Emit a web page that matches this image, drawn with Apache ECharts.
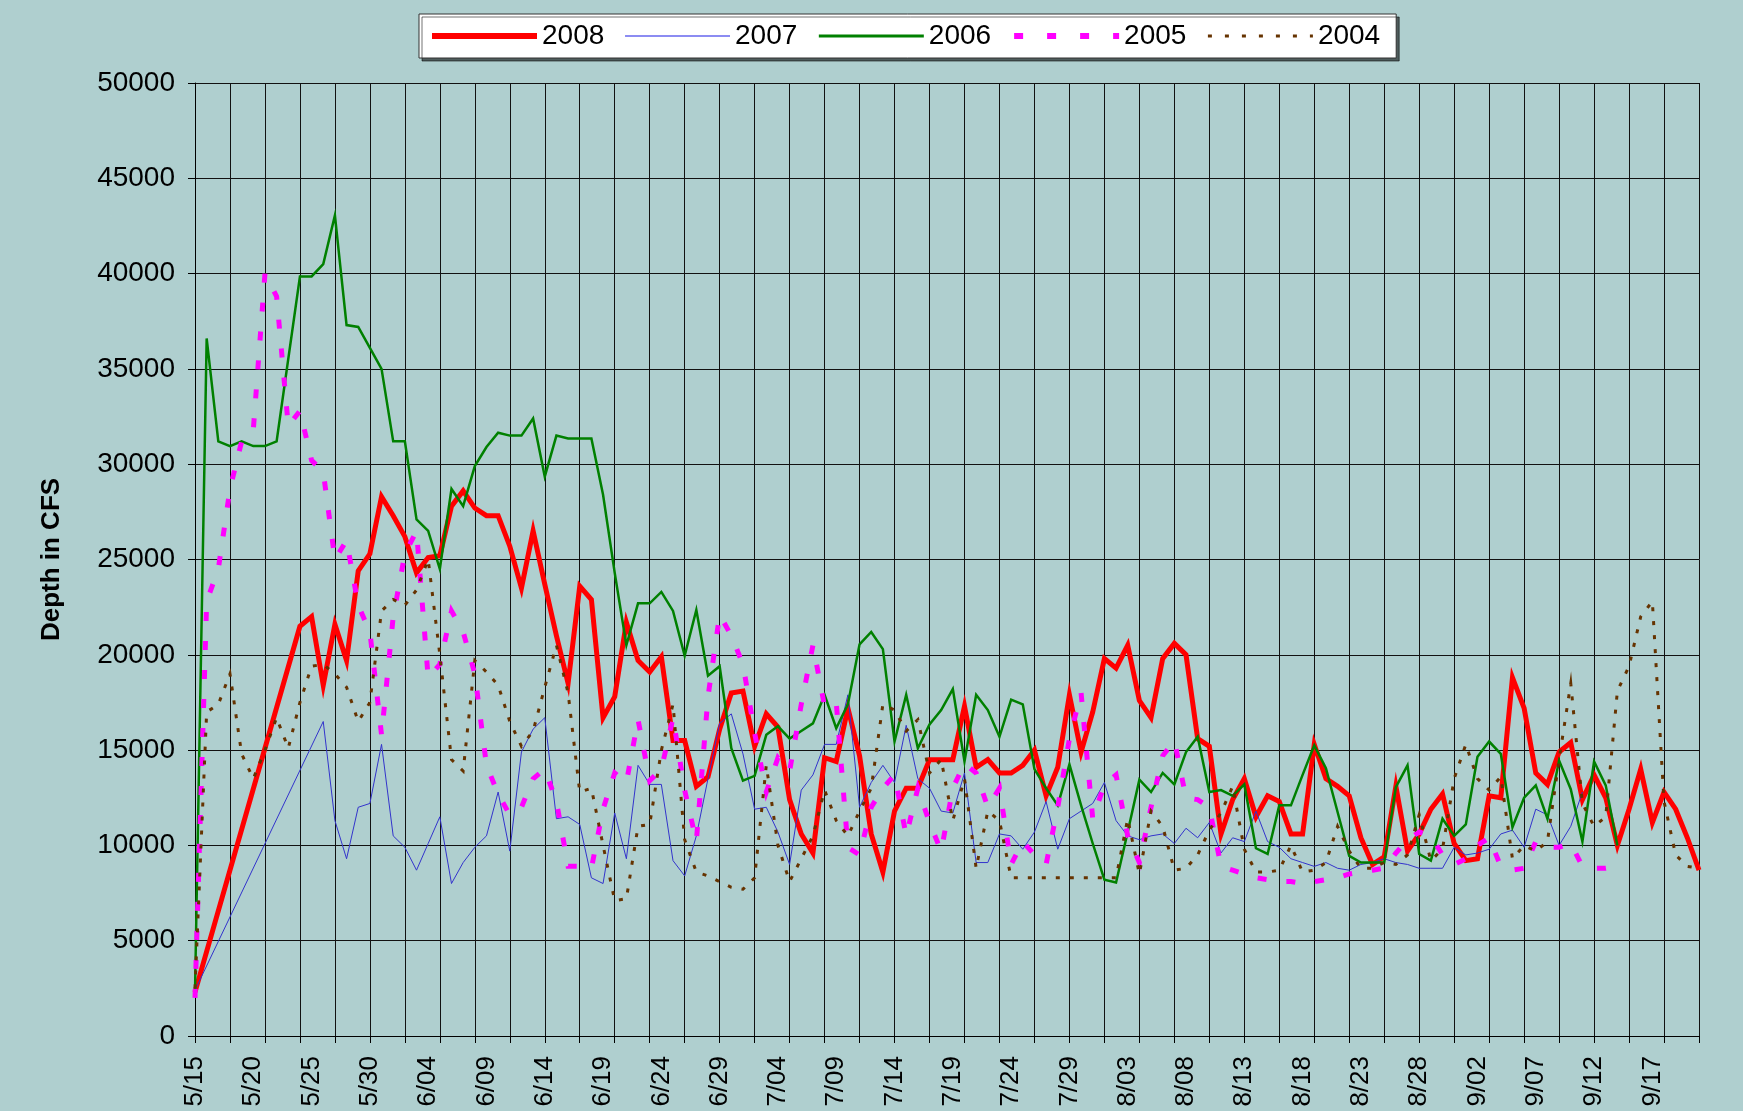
<!DOCTYPE html>
<html>
<head>
<meta charset="utf-8">
<script src="https://cdn.jsdelivr.net/npm/echarts@6/dist/echarts.min.js"></script>
<style>
html,body{margin:0;padding:0;background:#afcfcf;}
#chart{width:1743px;height:1111px;}
</style>
</head>
<body>
<div id="chart"></div>
<script>
const categories = [
"5/15","5/16","5/17","5/18","5/19","5/20","5/21","5/22","5/23","5/24","5/25","5/26","5/27","5/28","5/29","5/30","5/31",
"6/01","6/02","6/03","6/04","6/05","6/06","6/07","6/08","6/09","6/10","6/11","6/12","6/13","6/14","6/15","6/16","6/17","6/18","6/19","6/20","6/21","6/22","6/23","6/24","6/25","6/26","6/27","6/28","6/29","6/30",
"7/01","7/02","7/03","7/04","7/05","7/06","7/07","7/08","7/09","7/10","7/11","7/12","7/13","7/14","7/15","7/16","7/17","7/18","7/19","7/20","7/21","7/22","7/23","7/24","7/25","7/26","7/27","7/28","7/29","7/30","7/31",
"8/01","8/02","8/03","8/04","8/05","8/06","8/07","8/08","8/09","8/10","8/11","8/12","8/13","8/14","8/15","8/16","8/17","8/18","8/19","8/20","8/21","8/22","8/23","8/24","8/25","8/26","8/27","8/28","8/29","8/30","8/31",
"9/01","9/02","9/03","9/04","9/05","9/06","9/07","9/08","9/09","9/10","9/11","9/12","9/13","9/14","9/15","9/16","9/17","9/18","9/19","9/20","9/21"
];

const seriesNames = ["2008","2007","2006","2005","2004"];

const y2008 = [2300,null,null,null,null,null,null,null,null,21500,22000,18400,21600,19700,24400,25300,28300,
27300,26200,24300,25100,25200,27800,28600,27700,27300,27300,25700,23500,26500,23700,21000,18500,23600,22900,16700,17800,21700,19700,19100,19900,15500,15500,13100,13600,16100,18000,
18100,15200,16900,16200,12400,10600,9600,14600,14400,17200,14700,10600,8600,11800,13000,13000,14500,14500,14500,17300,14100,14500,13800,13800,14200,15000,12600,14100,17900,14900,17000,
19800,19300,20500,17600,16700,19800,20600,20000,15600,15200,10600,12400,13500,11500,12600,12300,10600,10600,15300,13500,13100,12600,10400,9000,9400,13100,9700,10600,11900,12700,10100,
9200,9300,12600,12500,18800,17200,13800,13200,14900,15400,12400,13700,12500,10000,11900,14000,11200,12800,11900,10400,8700];

const y2007 = [2400,null,null,null,null,null,null,null,null,null,null,16500,11300,9300,12000,12200,15300,
10500,9900,8700,10100,11500,8000,9100,9900,10500,12800,9700,14900,16100,16700,11400,11500,11100,8300,8000,11700,9300,14200,13200,13200,9200,8400,10500,13500,16400,16900,
14800,11900,12000,10700,9000,12900,13700,15300,15300,17900,12000,13300,14200,13300,16300,13500,13000,11800,11700,13800,9100,9100,10600,10500,9800,10700,12300,9800,11400,11800,12200,
13300,11300,10500,10300,10500,10600,10100,10900,10400,11200,9600,10400,10200,11800,10200,9900,9300,9100,8900,9100,8800,8700,9000,9100,9300,9100,9000,8800,8800,8800,9900,
9500,9600,9800,10600,10800,9900,11900,11600,10000,11000,12800,null,null,null,null,null,null,null,null,null,null];

const y2006 = [2300,36600,31200,30950,31200,30950,30950,31200,null,39850,39850,40500,43050,37300,37200,36100,35000,
31200,31200,27100,26500,24500,28700,27800,29900,30900,31650,31500,31500,32400,29350,31500,31350,31350,31350,28400,24300,20500,22700,22700,23300,22300,19950,22350,18900,19400,15100,
13400,13650,15800,16250,15600,16000,16400,17900,16150,17400,20550,21200,20300,15450,17900,15100,16350,17100,18200,14400,17900,17100,15700,17650,17400,14000,13000,12100,14250,12100,10100,
8200,8050,10700,13450,12800,13800,13200,14900,15700,12800,12900,12600,13200,9850,9550,12100,12100,13700,15250,14050,11750,9450,9100,9100,9100,13050,14200,9550,9200,11400,10500,
11100,14650,15450,14800,10950,12500,13150,11400,14450,12950,10200,14400,13150,10000,null,null,null,null,null,null,null];

const y2005 = [2000,22800,24500,28700,31200,31800,40000,38800,32000,32800,30200,29600,25000,26000,22600,21200,15800,
22000,25300,26500,18800,19500,22300,21200,19000,14200,12700,11600,12000,13500,14000,12300,8900,8900,8800,11900,13800,13300,16600,13400,14000,16700,12900,10200,17800,22100,21000,
19500,15900,12800,14600,13900,17400,20500,17300,17500,9900,9500,12000,13000,13700,10500,13000,11200,9700,13000,14300,13800,12000,13000,9000,10200,9500,9000,12000,15600,18000,11400,
13200,13700,10500,9100,12000,14700,15500,12500,12400,12000,8900,8700,8500,8300,8200,8100,8100,8000,8100,8200,8300,8500,8600,8700,8800,9600,10300,10700,10500,9500,9000,
9300,10000,10400,8900,8700,8800,10200,9900,9900,10100,8900,8800,8800,8900,null,null,null,null,null,null,null];

const y2004 = [2500,17000,17400,19000,14800,13500,15000,16700,15100,17500,19400,19500,19000,18300,16500,17500,22300,
22900,22600,23400,25000,20000,14500,13900,19700,19100,18400,16500,15200,16000,18300,20500,18000,12800,13000,10000,7100,7200,11000,11100,15000,17400,10300,8600,8400,8100,7800,
7700,8300,14200,10000,8100,9300,10500,12900,11300,10500,11800,13000,17400,17100,16000,16600,13800,14500,11300,13500,8800,11800,11300,8300,8300,8300,8300,8300,8300,8300,8300,
8300,8300,11400,8500,11800,11000,8700,8800,9500,10800,11700,13100,9800,8600,8600,8700,10000,8600,8700,9100,11000,9700,8800,8800,9100,9000,9500,11600,9200,9800,13500,
15300,13500,12900,13600,9300,10000,9700,10200,14500,18500,12200,11000,11500,18100,19400,22000,22800,12300,9500,8900,8800];

const yTicks = {min: 0, max: 50000, interval: 5000};

const FONT = "'Liberation Sans', Arial, sans-serif";

const chart = echarts.init(document.getElementById('chart'), null, {renderer: 'canvas'});

const styles = [
  {color: '#ff0000', width: 5, type: 'solid'},
  {color: '#3333cc', width: 1, type: 'solid'},
  {color: '#008000', width: 2.5, type: 'solid'},
  {color: '#ff00ff', width: 5, type: [9, 20]},
  {color: '#663300', width: 3, type: [4, 10]}
];
const legendLine = [
  {color: '#ff0000', width: 6, type: 'solid'},
  {color: '#6666ee', width: 1.5, type: 'solid'},
  {color: '#008000', width: 3, type: 'solid'},
  {color: '#ff00ff', width: 6, type: [9, 24]},
  {color: '#663300', width: 3, type: [4, 13]}
];
const dataSets = [y2008, y2007, y2006, y2005, y2004];

chart.setOption({
  animation: false,
  backgroundColor: '#afcfcf',
  textStyle: {fontFamily: FONT},
  legend: {
    data: seriesNames.map((n, k) => ({
      name: n,
      itemStyle: {opacity: 0},
      lineStyle: {color: legendLine[k].color, width: legendLine[k].width, type: legendLine[k].type, cap: 'butt'}
    })),
    left: 419,
    top: 14,
    padding: [8, 16, 8, 10],
    itemGap: 20,
    itemWidth: 105,
    itemHeight: 14,
    backgroundColor: '#ffffff',
    borderColor: '#333333',
    borderWidth: 1,
    shadowColor: 'rgba(0,0,0,0.55)',
    shadowBlur: 0,
    shadowOffsetX: 3,
    shadowOffsetY: 3,
    itemStyle: {opacity: 0},
    textStyle: {fontSize: 28, color: '#000', fontFamily: FONT}
  },
  grid: {left: 195, right: 44, top: 83, bottom: 75, containLabel: false},
  xAxis: {
    type: 'category',
    data: categories,
    boundaryGap: false,
    axisLine: {lineStyle: {color: '#000', width: 1}},
    axisTick: {show: true, interval: 2, length: 7, lineStyle: {color: '#000'}},
    axisLabel: {interval: 4, rotate: 90, fontSize: 26, color: '#000', margin: 20, fontFamily: FONT},
    splitLine: {show: true, interval: 2, lineStyle: {color: '#111', width: 1}}
  },
  yAxis: {
    type: 'value',
    min: yTicks.min,
    max: yTicks.max,
    interval: yTicks.interval,
    name: 'Depth in CFS',
    nameLocation: 'middle',
    nameRotate: 90,
    nameGap: 130,
    nameTextStyle: {fontSize: 26, fontWeight: 'bold', color: '#000', fontFamily: FONT},
    axisLine: {show: true, lineStyle: {color: '#000', width: 1}},
    axisTick: {show: true, length: 7, lineStyle: {color: '#000'}},
    axisLabel: {fontSize: 28, color: '#000', margin: 20, fontFamily: FONT, formatter: v => String(v)},
    splitLine: {show: true, lineStyle: {color: '#111', width: 1}}
  },
  series: seriesNames.map((n, k) => ({
    name: n,
    type: 'line',
    data: dataSets[k],
    connectNulls: true,
    symbol: 'none',
    showSymbol: false,
    smooth: false,
    color: styles[k].color,
    lineStyle: {color: styles[k].color, width: styles[k].width, type: styles[k].type, cap: 'butt', join: 'miter'},
    emphasis: {disabled: true}
  }))
});
</script>
</body>
</html>
